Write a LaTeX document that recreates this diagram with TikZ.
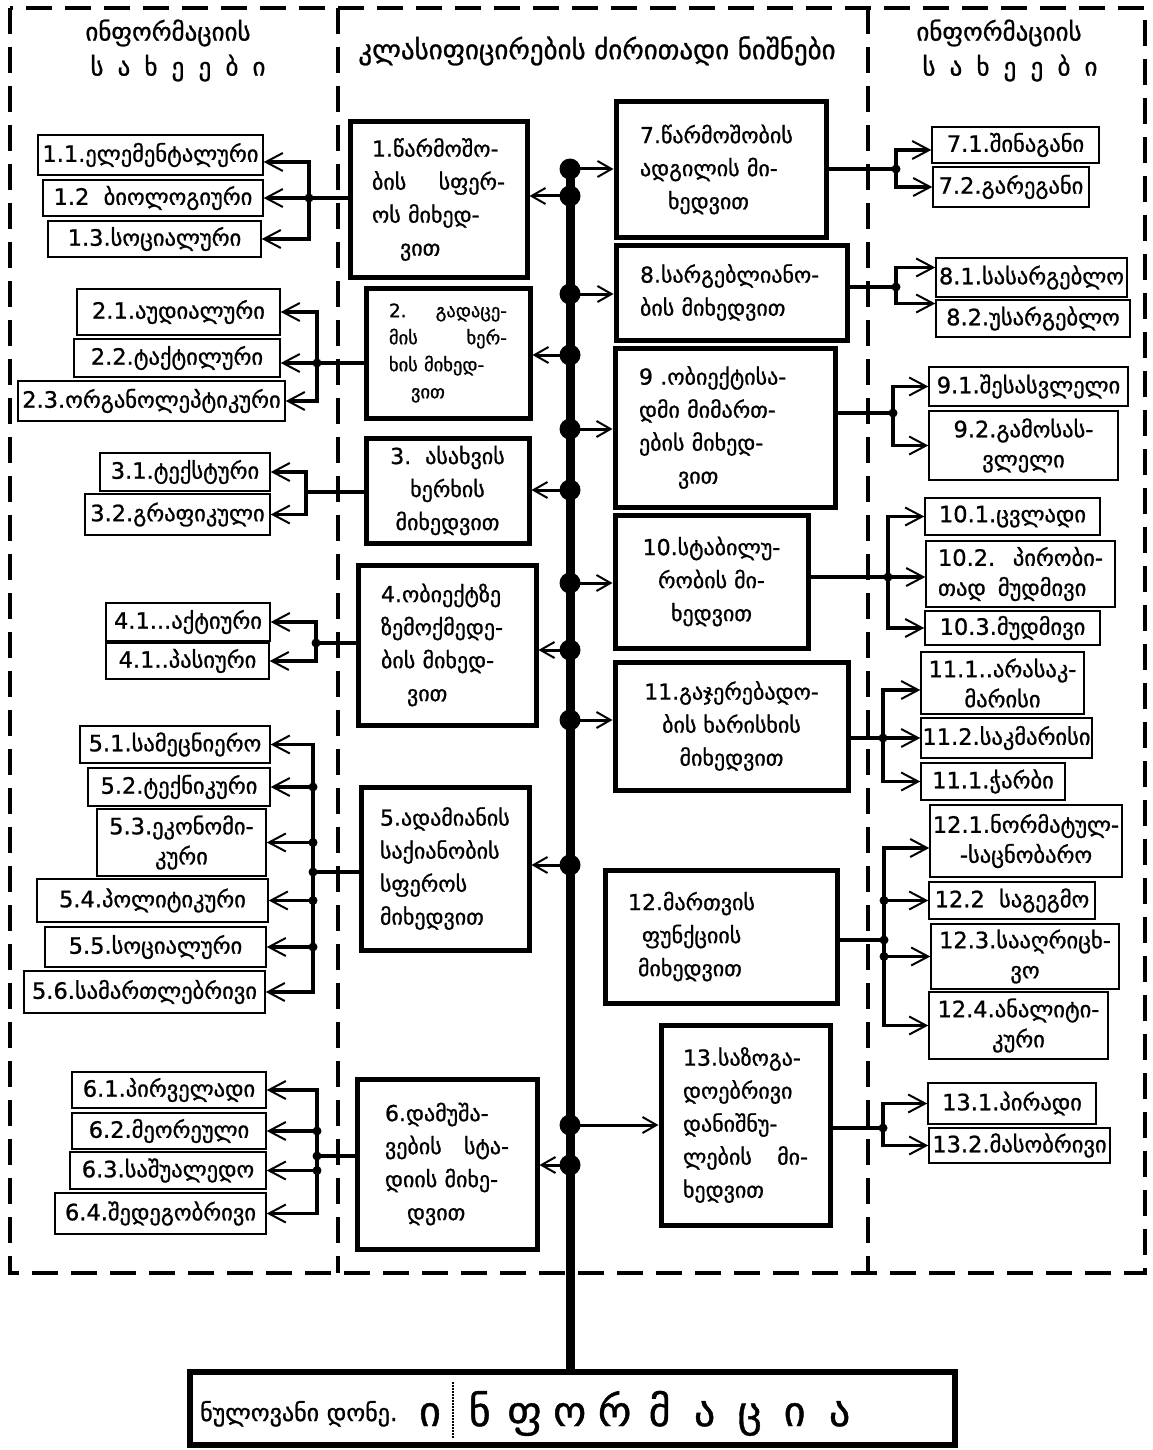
\documentclass[tikz,border=0pt]{standalone}
\usepackage{fontspec}
\usepackage{graphicx}
\setmainfont{DejaVu Sans}[FakeBold=1]
\usetikzlibrary{arrows.meta}
\newcommand\fLeaf{\fontsize{22.5}{30}\selectfont}
\newcommand\fBox{\fontsize{22}{33}\selectfont}
\newcommand\fBoxS{\fontsize{18.5}{27}\selectfont}
\newcommand\fHead{\fontsize{25}{30}\selectfont}
\newcommand\fHeadC{\fontsize{27}{30}\selectfont}
\newcommand\fBot{\fontsize{24}{30}\selectfont}
\newcommand\fBig{\fontsize{42}{46}\selectfont}
\newcommand\Jtwo[3]{\makebox[#1][l]{#2\hfill#3}}
\newcommand\gL[1]{\makebox[45pt]{#1}}
\newcommand\hL[1]{\makebox[27pt]{#1}}
\newcommand\Bx[7]{%
 \pgfmathsetmacro\bxw{#4-#3}%
 \pgfmathsetmacro\bxh{#6-#5}%
 \pgfmathsetmacro\bxx{(#3+#4)/2}%
 \pgfmathsetmacro\bxy{(#5+#6)/2}%
 \node[#1,minimum width=\bxw pt,minimum height=\bxh pt] (#2) at (\bxx,\bxy) {#7};}
\begin{document}
\begin{tikzpicture}[x=1pt,y=-1pt,
 frame/.style={line width=3.5pt,dash pattern=on 26pt off 13pt},
 leaf/.style={draw,line width=1.4pt,inner sep=0pt,font=\fLeaf,align=center},
 cbox/.style={draw,line width=5pt,inner sep=0pt,font=\fBox},
 con/.style={line width=3.5pt},
 arr/.style={line width=3.5pt,-{Straight Barb[length=17pt,width=18pt,line width=2pt]}},
 sarr/.style={line width=3pt,-{Straight Barb[length=14pt,width=16pt,line width=2pt]}},
 spine/.style={line width=9pt},
 dotted box/.style={line width=1.5pt,dash pattern=on 1.5pt off 1.5pt},
 head/.style={font=\fHead,inner sep=0pt}]
\useasboundingbox (0,0) rectangle (1152,1450);

% frame
\coordinate (fTL) at (10,8);
\coordinate (fBR) at (1145,1273);
\coordinate (dvL) at (338,8);
\coordinate (dvR) at (868,8);
\draw[frame] (fTL) rectangle (fBR);
\draw[frame] (dvL) -- (dvL |- fBR);
\draw[frame] (dvR) -- (dvR |- fBR);

% headers
\node[head] (hL1) at (168,33) {ინფორმაციის};
\node[head] (hL2) at (178,68) {\hL{ს}\hL{ა}\hL{ხ}\hL{ე}\hL{ე}\hL{ბ}\hL{ი}};
\node[head,font=\fHeadC] (hC) at (597,51) {კლასიფიცირების ძირითადი ნიშნები};
\node[head] (hR1) at (999,33) {ინფორმაციის};
\node[head] (hR2) at (1010,68) {\hL{ს}\hL{ა}\hL{ხ}\hL{ე}\hL{ე}\hL{ბ}\hL{ი}};

% central boxes
\Bx{cbox,text width=133pt,align=left}{b1}{350}{527}{122}{277}{1.წარმოშო-\\\Jtwo{133pt}{ბის}{სფერ-}\\ოს მიხედ-\\\hspace*{28pt}ვით}
\Bx{cbox,font=\fBoxS,text width=118pt,align=left}{b2}{366}{530}{288}{418}{\Jtwo{118pt}{2.}{გადაცე-}\\\Jtwo{118pt}{მის}{ხერ-}\\ხის მიხედ-\\\hspace*{22pt}ვით}
\Bx{cbox,align=center}{b3}{366}{529}{438}{543}{3.\ \ ასახვის\\ხერხის\\მიხედვით}
\Bx{cbox,text width=132pt,align=left}{b4}{358}{536}{565}{725}{4.ობიექტზე\\ზემოქმედე-\\ბის მიხედ-\\\hspace*{26pt}ვით}
\Bx{cbox,text width=130pt,align=left}{b5}{361}{529}{787}{950}{5.ადამიანის\\საქიანობის\\სფეროს\\მიხედვით}
\Bx{cbox,text width=124pt,align=left}{b6}{357}{537}{1079}{1249}{6.დამუშა-\\\Jtwo{124pt}{ვების}{სტა-}\\დიის მიხე-\\\hspace*{22pt}დვით}
\Bx{cbox,text width=162pt,align=left}{b7}{616}{826}{102}{237}{7.წარმოშობის\\ადგილის მი-\\\hspace*{28pt}ხედვით}
\Bx{cbox,text width=183pt,align=left}{b8}{616}{847}{245}{340}{8.სარგებლიანო-\\ბის მიხედვით}
\Bx{cbox,text width=172pt,align=left}{b9}{615}{835}{348}{507}{9 .ობიექტისა-\\დმი მიმართ-\\ების მიხედ-\\\hspace*{39pt}ვით}
\Bx{cbox,align=center}{b10}{615}{808}{515}{648}{10.სტაბილუ-\\რობის მი-\\ხედვით}
\Bx{cbox,align=center}{b11}{615}{848}{662}{790}{11.გაჯერებადო-\\ბის ხარისხის\\მიხედვით}
\Bx{cbox,text width=186pt,align=left}{b12}{605}{837}{870}{1003}{12.მართვის\\\hspace*{14pt}ფუნქციის\\\hspace*{10pt}მიხედვით}
\Bx{cbox,text width=125pt,align=left}{b13}{661}{830}{1025}{1225}{13.საზოგა-\\დოებრივი\\დანიშნუ-\\\Jtwo{125pt}{ლების}{მი-}\\ხედვით}

% left leaves
\Bx{leaf}{l11}{38}{263}{135}{175}{1.1.ელემენტალური}
\Bx{leaf}{l12}{43}{263}{180}{216}{1.2\ \ ბიოლოგიური}
\Bx{leaf}{l13}{48}{261}{221}{257}{1.3.სოციალური}
\Bx{leaf}{l21}{77}{280}{289}{335}{2.1.აუდიალური}
\Bx{leaf}{l22}{74}{280}{339}{377}{2.2.ტაქტილური}
\Bx{leaf}{l23}{18}{285}{381}{421}{2.3.ორგანოლეპტიკური}
\Bx{leaf}{l31}{100}{270}{453}{491}{3.1.ტექსტური}
\Bx{leaf}{l32}{85}{270}{494}{535}{3.2.გრაფიკული}
\Bx{leaf}{l41}{106}{270}{603}{641}{4.1...აქტიური}
\Bx{leaf}{l42}{106}{269}{643}{679}{4.1..პასიური}
\Bx{leaf}{l51}{80}{270}{726}{763}{5.1.სამეცნიერო}
\Bx{leaf}{l52}{88}{270}{768}{806}{5.2.ტექნიკური}
\Bx{leaf}{l53}{97}{266}{809}{876}{5.3.ეკონომი-\\კური}
\Bx{leaf}{l54}{37}{268}{879}{922}{5.4.პოლიტიკური}
\Bx{leaf}{l55}{45}{266}{927}{967}{5.5.სოციალური}
\Bx{leaf}{l56}{24}{265}{971}{1013}{5.6.სამართლებრივი}
\Bx{leaf}{l61}{72}{266}{1072}{1108}{6.1.პირველადი}
\Bx{leaf}{l62}{72}{266}{1113}{1149}{6.2.მეორეული}
\Bx{leaf}{l63}{70}{266}{1152}{1189}{6.3.საშუალედო}
\Bx{leaf}{l64}{55}{266}{1193}{1234}{6.4.შედეგობრივი}

% right leaves
\Bx{leaf}{r71}{932}{1099}{127}{163}{7.1.შინაგანი}
\Bx{leaf}{r72}{933}{1089}{167}{207}{7.2.გარეგანი}
\Bx{leaf}{r81}{936}{1127}{258}{297}{8.1.სასარგებლო}
\Bx{leaf}{r82}{936}{1130}{300}{337}{8.2.უსარგებლო}
\Bx{leaf}{r91}{929}{1128}{367}{406}{9.1.შესასვლელი}
\Bx{leaf}{r92}{929}{1118}{411}{480}{9.2.გამოსას-\\ვლელი}
\Bx{leaf}{r101}{925}{1100}{498}{535}{10.1.ცვლადი}
\Bx{leaf,text width=165pt,align=left}{r102}{926}{1115}{541}{607}{\Jtwo{165pt}{10.2.}{პირობი-}\\თად\hspace{12pt}მუდმივი}
\Bx{leaf}{r103}{925}{1100}{611}{645}{10.3.მუდმივი}
\Bx{leaf}{r111}{921}{1084}{652}{714}{11.1..არასაკ-\\მარისი}
\Bx{leaf}{r112}{921}{1092}{718}{758}{11.2.საკმარისი}
\Bx{leaf}{r113}{921}{1065}{763}{800}{11.1.ჭარბი}
\Bx{leaf}{r121}{930}{1122}{805}{877}{12.1.ნორმატულ-\\-საცნობარო}
\Bx{leaf}{r122}{929}{1095}{882}{919}{12.2\ \ საგეგმო}
\Bx{leaf}{r123}{931}{1119}{924}{989}{12.3.სააღრიცხ-\\ვო}
\Bx{leaf}{r124}{929}{1108}{992}{1059}{12.4.ანალიტი-\\კური}
\Bx{leaf}{r131}{928}{1096}{1083}{1124}{13.1.პირადი}
\Bx{leaf}{r132}{929}{1110}{1128}{1163}{13.2.მასობრივი}

% bottom box
\Bx{draw,line width=6pt}{bot}{190}{955}{1372}{1445}{}
\Bx{dotted box}{inner}{198}{948}{1382}{1437}{}
\coordinate (dv) at (453,1382);
\draw[dotted box] (dv) -- (dv |- inner.south);
\node[font=\fBot,anchor=base west,inner sep=0pt] (zl) at (200,1421) {ნულოვანი დონე.};
\node[font=\fBig,inner sep=0pt,anchor=base] (bi) at (430,1426) {ი};
\node[font=\fBig,inner sep=0pt,anchor=base west] (bw) at (457,1426) {\gL{ნ}\gL{ფ}\gL{ო}\gL{რ}\gL{მ}\gL{ა}\gL{ც}\gL{ი}\gL{ა}};

% spine
\coordinate (spT) at (570,160);
\draw[spine] (spT) -- (spT |- bot.north);
\foreach \n/\yy in {d7/169,d1/196,d8/294,d2/355,d9/429,d3/490,d10/583,d4/650,d11/720,d5/865,d13/1125,d6/1165}
  \coordinate (\n) at (570,\yy);
\foreach \n in {1,...,6} \draw[sarr] (d\n) -- (d\n -| b\n.east);
\foreach \n in {7,8,9,10,11,13} \draw[sarr] (d\n) -- (d\n -| b\n.west);
\foreach \n in {d7,d1,d8,d2,d9,d3,d10,d4,d11,d5,d13,d6} \fill (\n) circle[radius=10.5pt];

% left groups
\coordinate (j1) at (309,198);
\draw[con] (b1.west |- j1) -- (j1);
\draw[arr] (j1) |- ([yshift=-7pt]l11.east);
\draw[arr] (j1) -- (j1 -| l12.east);
\draw[arr] (j1) |- (l13.east);
\fill (j1) circle[radius=4.5pt];

\coordinate (j2) at (317,363);
\draw[con] (b2.west |- j2) -- (j2);
\draw[arr] (j2) |- (l21.east);
\draw[arr] (j2) -- (j2 -| l22.east);
\draw[arr] (j2) |- (l23.east);
\fill (j2) circle[radius=4.5pt];

\coordinate (j3) at (306,492);
\draw[con] (b3.west |- j3) -- (j3);
\draw[arr] (j3) |- (l31.east);
\draw[arr] (j3) |- (l32.east);

\coordinate (j4) at (316,643);
\draw[con] (b4.west |- j4) -- (j4);
\draw[arr] (j4) |- (l41.east);
\draw[arr] (j4) |- (l42.east);
\fill (j4) circle[radius=4.5pt];

\coordinate (j5) at (313,872);
\draw[con] (b5.west |- j5) -- (j5);
\foreach \n in {51,52,53,54,55,56} \draw[arr] (j5) |- (l\n.east);
\foreach \n in {52,53,54,55} \fill (j5 |- l\n.east) circle[radius=4.5pt];
\fill (j5) circle[radius=4.5pt];

\coordinate (j6) at (317,1156);
\draw[con] (b6.west |- j6) -- (j6);
\foreach \n in {61,62,63,64} \draw[arr] (j6) |- (l\n.east);
\foreach \n in {62,63} \fill (j6 |- l\n.east) circle[radius=4.5pt];
\fill (j6) circle[radius=4.5pt];

% right groups
\coordinate (j7) at (896,169);
\draw[con] (b7.east |- j7) -- (j7);
\draw[arr] (j7) |- ([yshift=-5pt]r71.west);
\draw[arr] (j7) |- (r72.west);
\fill (j7) circle[radius=4.5pt];

\coordinate (j8) at (896,287);
\draw[con] (b8.east |- j8) -- (j8);
\draw[arr] (j8) |- ([yshift=10pt]r81.west);
\draw[arr] (j8) |- ([yshift=15pt]r82.west);
\fill (j8) circle[radius=4.5pt];

\coordinate (j9) at (893,413);
\draw[con] (b9.east |- j9) -- (j9);
\draw[arr] (j9) |- (r91.west);
\draw[arr] (j9) |- (r92.west);
\fill (j9) circle[radius=4.5pt];

\coordinate (j10) at (888,577);
\draw[con] (b10.east |- j10) -- (j10);
\draw[arr] (j10) |- (r101.west);
\draw[arr] (j10) -- (j10 -| r102.west);
\draw[arr] (j10) |- (r103.west);
\fill (j10) circle[radius=4.5pt];

\coordinate (j11) at (883,738);
\draw[con] (b11.east |- j11) -- (j11);
\draw[arr] (j11) |- ([yshift=-7pt]r111.west);
\draw[arr] (j11) -- (j11 -| r112.west);
\draw[arr] (j11) |- (r113.west);
\fill (j11) circle[radius=4.5pt];

\coordinate (j12) at (884,940);
\draw[con] (b12.east |- j12) -- (j12);
\draw[arr] (j12) |- ([yshift=-7pt]r121.west);
\foreach \n in {122,123,124} \draw[arr] (j12) |- (r\n.west);
\foreach \n in {122,123} \fill (j12 |- r\n.west) circle[radius=4.5pt];
\fill (j12) circle[radius=4.5pt];

\coordinate (j13) at (883,1128);
\draw[con] (b13.east |- j13) -- (j13);
\draw[arr] (j13) |- (r131.west);
\draw[arr] (j13) |- (r132.west);
\fill (j13) circle[radius=4.5pt];
\end{tikzpicture}
\end{document}
